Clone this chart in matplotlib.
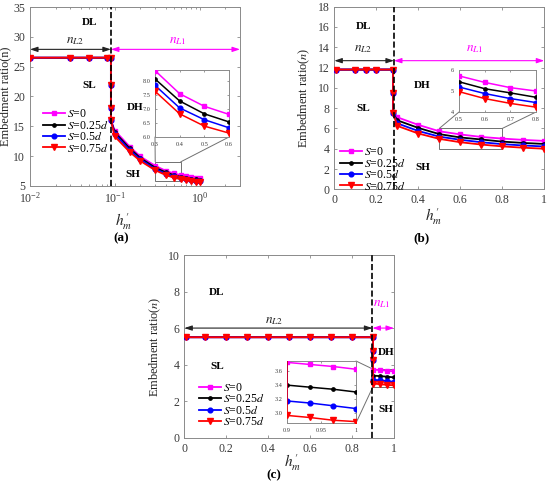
import matplotlib
matplotlib.use("Agg")
import matplotlib.pyplot as plt
from matplotlib.patches import Rectangle, ConnectionPatch

plt.rcParams["font.family"] = ["Liberation Serif", "DejaVu Serif"]
plt.rcParams["mathtext.fontset"] = "stix"

W, H = 550, 495

# ---- data ----
labels = [r"$S$=0", r"$S$=0.25$d$", r"$S$=0.5$d$", r"$S$=0.75$d$"]
colors = ["#ff00ff", "#000000", "#0000ff", "#ff0000"]
markers = ["s", "o", "o", "v"]
msizes = [3.2, 2.4, 3.4, 3.8]

# panel (a), log x
a_flat_x = [0.01, 0.03, 0.05, 0.08, 0.09]
a_flat_y = [26.5, 26.5, 26.5, 26.5, 26.5]
a_drop_x = [0.09, 0.09, 0.09]
a_drop_y = [22, 18, 16]
a_x = [0.1, 0.15, 0.2, 0.3, 0.4, 0.5, 0.6, 0.7, 0.8, 0.9, 1.0]
a_y = [
    [14.3, 11.6, 9.95, 8.38, 7.55, 7.10, 6.81, 6.62, 6.48, 6.36, 6.27],
    [14.0, 11.3, 9.70, 8.08, 7.29, 6.83, 6.54, 6.36, 6.22, 6.11, 6.02],
    [13.7, 11.0, 9.45, 7.85, 7.04, 6.62, 6.33, 6.14, 6.00, 5.89, 5.80],
    [13.3, 10.7, 9.20, 7.64, 6.83, 6.39, 6.14, 5.93, 5.80, 5.69, 5.60],
]

# panel (b)
b_flat_x = [0.01, 0.1, 0.15, 0.2, 0.28]
b_flat_y = [11.8, 11.8, 11.8, 11.8, 11.8]
b_drop_x = [0.28, 0.28]
b_drop_y = [9.5, 7.5]
b_x = [0.3, 0.4, 0.5, 0.6, 0.7, 0.8, 0.9, 1.0]
b_y = [
    [7.10, 6.35, 5.72, 5.41, 5.16, 5.00, 4.87, 4.77],
    [6.80, 6.05, 5.44, 5.11, 4.91, 4.70, 4.57, 4.47],
    [6.50, 5.75, 5.19, 4.88, 4.64, 4.45, 4.32, 4.22],
    [6.25, 5.50, 4.97, 4.64, 4.41, 4.23, 4.10, 4.00],
]

# panel (c)
c_flat_x = [0.01, 0.1, 0.2, 0.3, 0.4, 0.5, 0.6, 0.7, 0.8, 0.9]
c_flat_y = [5.5] * 10
c_drop_x = [0.9, 0.9]
c_drop_y = [4.75, 4.25]
c_x = [0.9, 0.933, 0.967, 1.0]
c_y = [
    [3.73, 3.70, 3.67, 3.63],
    [3.40, 3.37, 3.34, 3.30],
    [3.17, 3.14, 3.10, 3.06],
    [2.96, 2.93, 2.89, 2.87],
]

SPINE = "#8a8a8a"
TICKC = "#3a3a3a"


def rect(l, t, r, b):
    return [l / W, 1 - b / H, (r - l) / W, (b - t) / H]


def style(ax, fs=8.5, tl=2.5):
    for s in ax.spines.values():
        s.set_color(SPINE)
        s.set_linewidth(0.7)
    ax.tick_params(which="both", direction="in", top=True, right=True,
                   color=SPINE, labelcolor=TICKC, labelsize=fs, length=tl, width=0.6)
    ax.tick_params(which="minor", length=tl * 0.6)


def draw_series(ax, fx, fy, dx, dy, cx, cys, lw=1.3):
    for ys, c, m, ms, lab in zip(cys, colors, markers, msizes, labels):
        ax.plot(fx + dx + cx, fy + dy + ys, color=c, marker=m, ms=ms, lw=lw,
                label=lab, zorder=3)


def arrows(ax, y, x0, xs, x1):
    kw = dict(arrowstyle="<|-|>,head_length=0.45,head_width=0.15", lw=0.8,
              shrinkA=0, shrinkB=0)
    ax.annotate("", xy=(xs, y), xytext=(x0, y),
                arrowprops=dict(color="#222222", **kw), zorder=5)
    ax.annotate("", xy=(x1, y), xytext=(xs, y),
                arrowprops=dict(color="#ff00ff", **kw), zorder=5)


def regions(ax, pos):
    for txt, (fx, fy) in pos.items():
        ax.text(fx, fy, txt, transform=ax.transAxes, ha="center", va="center",
                fontsize=8, fontweight="bold")


def nlabels(ax, p2, p1):
    ax.text(*p2, r"$n_{L2}$", transform=ax.transAxes, ha="center", va="center",
            fontsize=9.5, color="#222222")
    ax.text(*p1, r"$n_{L1}$", transform=ax.transAxes, ha="center", va="center",
            fontsize=9.5, color="#ff00ff")


def zoom_box(ax, ins, x0, y0, x1, y1, corners):
    ax.add_patch(Rectangle((x0, y0), x1 - x0, y1 - y0, fill=False,
                           ec="#707070", lw=0.7, zorder=2))
    for (dxy, axy) in corners:
        cp = ConnectionPatch(xyA=dxy, coordsA=ax.transData, xyB=axy,
                             coordsB=ins.transAxes, color="#707070", lw=0.7)
        ax.add_artist(cp)


def legend_at(ax, fig, xpx, ypx):
    ax.legend(loc="center left", bbox_to_anchor=(xpx / W, 1 - ypx / H),
              bbox_transform=fig.transFigure, frameon=False, fontsize=8.5,
              handlelength=1.9, handletextpad=0.15, labelspacing=-0.05,
              borderpad=0, borderaxespad=0)


def ylab(ax, text, fx):
    ax.set_ylabel(text, fontsize=8.8, color="#222222")
    ax.yaxis.set_label_coords(fx, 0.5)


def xlab(ax, fx, fy):
    ax.set_xlabel(r"$h^{\,\prime}_{m}$", fontsize=11, color="#222222")
    ax.xaxis.set_label_coords(fx, fy)
    ax.xaxis.label.set_va("center")


fig = plt.figure(figsize=(W / 100, H / 100), dpi=100)

# ---------------- (a) ----------------
ax = fig.add_axes(rect(30, 7, 240, 186))
draw_series(ax, a_flat_x, a_flat_y, a_drop_x, a_drop_y, a_x, a_y)
ax.set_xscale("log")
ax.set_xlim(0.01, 3)
ax.set_ylim(5, 35)
ax.set_yticks([5, 10, 15, 20, 25, 30, 35])
ax.axvline(0.09, color="k", ls="--", lw=1.2, zorder=4)
style(ax)
arrows(ax, 27.9, 0.01, 0.09, 3)
regions(ax, {"DL": (0.286, 0.916), "SL": (0.281, 0.559),
             "DH": (0.50, 0.436), "SH": (0.49, 0.067)})
nlabels(ax, (0.214, 0.81), (0.705, 0.81))
ylab(ax, "Embedment ratio(n)", -0.09)
xlab(ax, 0.445, -0.2)
legend_at(ax, fig, 43, 131.5)

ins = fig.add_axes(rect(155, 70, 229, 137))
draw_series(ins, a_flat_x, a_flat_y, a_drop_x, a_drop_y, a_x, a_y, lw=1.1)
ins.set_xlim(0.3, 0.6)
ins.set_ylim(6, 8.4)
ins.set_xticks([0.3, 0.4, 0.5, 0.6])
ins.set_yticks([6, 6.5, 7, 7.5, 8])
style(ins, fs=4.5, tl=1.5)
zoom_box(ax, ins, 0.3, 5.85, 0.6, 9.05,
         [((0.3, 9.05), (0, 0)), ((0.6, 9.05), (1, 0))])

# ---------------- (b) ----------------
ax = fig.add_axes(rect(334.3, 6.7, 544.3, 189.3))
draw_series(ax, b_flat_x, b_flat_y, b_drop_x, b_drop_y, b_x, b_y)
ax.set_xlim(0, 1)
ax.set_ylim(0, 18)
ax.set_yticks(range(0, 19, 2))
ax.set_xticks([0, 0.2, 0.4, 0.6, 0.8, 1])
ax.set_xticklabels(["0", "0.2", "0.4", "0.6", "0.8", "1"])
ax.axvline(0.284, color="k", ls="--", lw=1.2, zorder=4)
style(ax)
arrows(ax, 12.68, 0, 0.284, 1)
regions(ax, {"DL": (0.137, 0.889), "SL": (0.137, 0.44),
             "DH": (0.418, 0.566), "SH": (0.422, 0.117)})
nlabels(ax, (0.137, 0.77), (0.67, 0.77))
ylab(ax, r"Embedment ratio($n$)", -0.108)
xlab(ax, 0.471, -0.15)
legend_at(ax, fig, 340, 169.5)

ins = fig.add_axes(rect(459, 70, 536, 112))
draw_series(ins, b_flat_x, b_flat_y, b_drop_x, b_drop_y, b_x, b_y, lw=1.1)
ins.set_xlim(0.5, 0.8)
ins.set_ylim(4, 6)
ins.set_xticks([0.5, 0.6, 0.7, 0.8])
ins.set_yticks([4, 5, 6])
style(ins, fs=4.5, tl=1.5)
zoom_box(ax, ins, 0.5, 4, 0.8, 6,
         [((0.5, 6), (0, 0)), ((0.8, 6), (1, 0))])

# ---------------- (c) ----------------
ax = fig.add_axes(rect(184.3, 255, 394, 437.7))
draw_series(ax, c_flat_x, c_flat_y, c_drop_x, c_drop_y, c_x, c_y)
ax.set_xlim(0, 1)
ax.set_ylim(0, 10)
ax.set_yticks(range(0, 11, 2))
ax.set_xticks([0, 0.2, 0.4, 0.6, 0.8, 1])
ax.set_xticklabels(["0", "0.2", "0.4", "0.6", "0.8", "1"])
ax.axvline(0.897, color="k", ls="--", lw=1.2, zorder=4)
style(ax)
arrows(ax, 6.0, 0, 0.897, 1)
regions(ax, {"DL": (0.156, 0.797), "SL": (0.156, 0.387),
             "DH": (0.962, 0.469), "SH": (0.962, 0.152)})
nlabels(ax, (0.428, 0.64), (0.94, 0.73))
ylab(ax, r"Embedment ratio($n$)", -0.10)
xlab(ax, 0.518, -0.134)
legend_at(ax, fig, 199, 405)

ins = fig.add_axes(rect(287, 361, 356, 423))
draw_series(ins, c_flat_x, c_flat_y, c_drop_x, c_drop_y, c_x, c_y, lw=1.1)
ins.set_xlim(0.9, 1.0)
ins.set_ylim(2.85, 3.75)
ins.set_xticks([0.9, 0.95, 1.0])
ins.set_xticklabels(["0.9", "0.95", "1"])
ins.set_yticks([3, 3.2, 3.4, 3.6])
style(ins, fs=4.5, tl=1.5)
zoom_box(ax, ins, 0.9, 2.8, 1.0, 3.75,
         [((0.9, 3.75), (1, 1)), ((0.9, 2.8), (1, 0))])

for txt, (x, y) in {"(a)": (121, 238), "(b)": (421.7, 238), "(c)": (274, 475)}.items():
    fig.text(x / W, 1 - y / H, txt, ha="center", va="center", fontsize=9.5,
             fontweight="bold")

fig.savefig("out.png", dpi=100)
